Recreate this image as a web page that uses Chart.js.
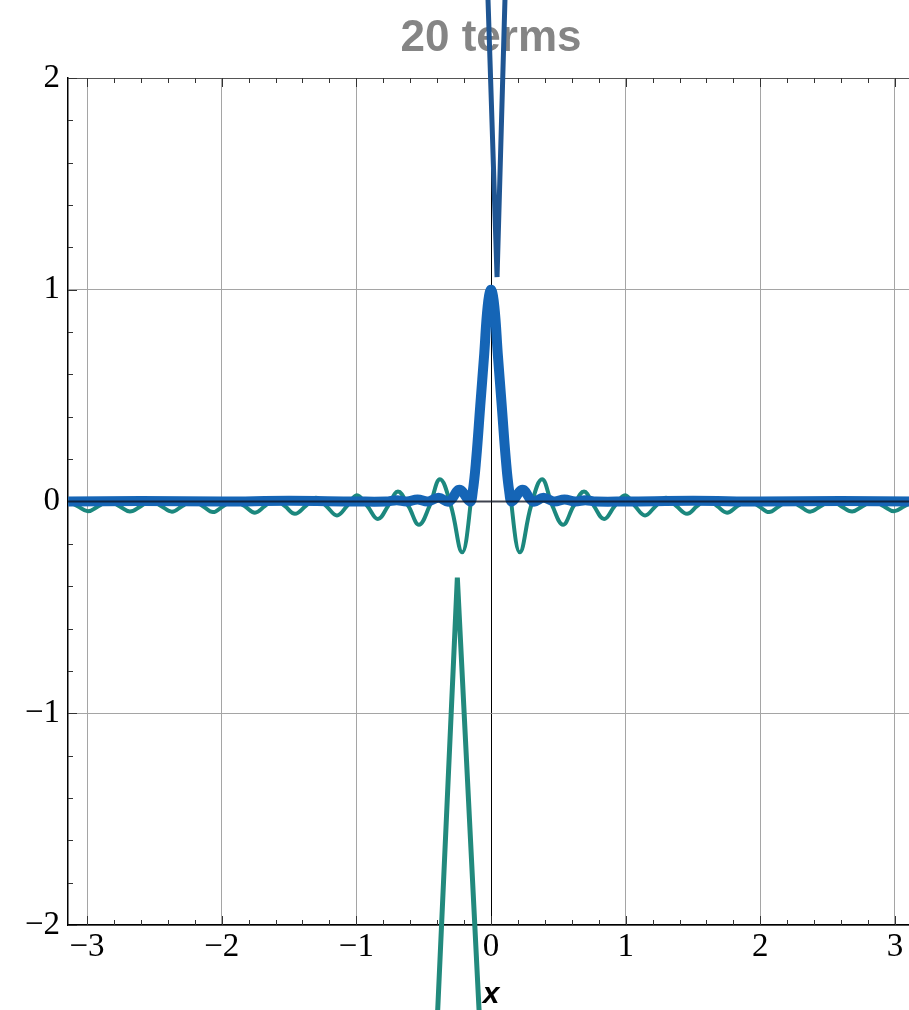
<!DOCTYPE html>
<html>
<head>
<meta charset="utf-8">
<script src="https://cdn.jsdelivr.net/npm/chart.js@4.4.0/dist/chart.umd.min.js"></script>
<style>
  html, body { margin: 0; padding: 0; background: #fff; overflow: hidden; }
  #termsChart { display: block; }
</style>
</head>
<body>
<canvas id="termsChart" width="920" height="1010"></canvas>
<script>
// tick labels
const xTicks = [-3, -2, -1, 0, 1, 2, 3];
const yTicks = [-2, -1, 0, 1, 2];

// 20 terms, teal partial sum
const tealX = [-3.14, -3.07, -2.994, -2.916, -2.838, -2.76, -2.682, -2.6, -2.526, -2.448,
  -2.37, -2.295, -2.22, -2.14, -2.065, -1.99, -1.91, -1.83, -1.753, -1.68,
  -1.605, -1.53, -1.456, -1.378, -1.3, -1.222, -1.144, -1.07, -0.996, -0.918,
  -0.84, -0.765, -0.691, -0.613, -0.535, -0.457, -0.379, -0.297, -0.215, -0.155,
  -0.1, -0.05, 0,
  0.05, 0.1, 0.155, 0.215, 0.297, 0.379, 0.457, 0.535, 0.613, 0.691,
  0.765, 0.84, 0.918, 0.996, 1.07, 1.144, 1.222, 1.3, 1.378, 1.456,
  1.53, 1.605, 1.68, 1.753, 1.83, 1.91, 1.99, 2.065, 2.14, 2.22,
  2.295, 2.37, 2.448, 2.526, 2.6, 2.682, 2.76, 2.838, 2.916, 2.994, 3.07, 3.14];
const tealY = [0.002, -0.022, -0.046, -0.022, 0.002, -0.022, -0.047, -0.022, 0.002, -0.022,
  -0.048, -0.022, 0.004, -0.022, -0.05, -0.022, 0.007, -0.022, -0.053, -0.022,
  0.011, -0.022, -0.058, -0.022, 0.018, -0.022, -0.066, -0.022, 0.03, -0.022,
  -0.083, -0.022, 0.047, -0.022, -0.11, -0.022, 0.105, -0.022, -0.24, -0.03,
  0.4, 0.8, 0.98,
  0.8, 0.4, -0.03, -0.24, -0.022, 0.105, -0.022, -0.11, -0.022, 0.047,
  -0.022, -0.083, -0.022, 0.03, -0.022, -0.066, -0.022, 0.018, -0.022, -0.058,
  -0.022, 0.011, -0.022, -0.053, -0.022, 0.007, -0.022, -0.05, -0.022, 0.004,
  -0.022, -0.048, -0.022, 0.002, -0.022, -0.047, -0.022, 0.002, -0.022, -0.046, -0.022, 0.002];

// thick blue kernel
const blueX = [-3.14, -2.6, -2.0, -1.5, -1.0, -0.78, -0.7, -0.624, -0.546, -0.468,
  -0.39, -0.312, -0.234, -0.156, -0.135, -0.11, -0.08, -0.05, -0.025, 0,
  0.025, 0.05, 0.08, 0.11, 0.135, 0.156, 0.234, 0.312, 0.39, 0.468,
  0.546, 0.624, 0.7, 0.78, 1.0, 1.5, 2.0, 2.6, 3.14];
const blueY = [0, 0.002, 0, 0.003, 0, 0, 0.006, 0, 0.01, 0,
  0.018, 0, 0.055, 0, 0.05, 0.2, 0.45, 0.7, 0.92, 1.0,
  0.92, 0.7, 0.45, 0.2, 0.05, 0, 0.055, 0, 0.018, 0,
  0.01, 0, 0.006, 0, 0, 0.003, 0, 0.002, 0];

// the two steep pieces that leave the frame
const spikeUpX = [-0.034, 0.045, 0.114];
const spikeUpY = [2.6, 1.06, 2.6];
const spikeDownX = [-0.41, -0.25, -0.073];
const spikeDownY = [-2.6, -0.36, -2.6];

function toPoints(xs, ys) {
  return xs.map((x, i) => ({ x: x, y: ys[i] }));
}

function minusSign(v) {
  return String(v).replace('-', '\u2212');
}

const serif = "'Liberation Serif', 'Times New Roman', serif";

const frameTicks = {
  id: 'frameTicks',
  beforeDatasetsDraw(chart) {
    const ctx = chart.ctx;
    const a = chart.chartArea;
    const xs = chart.scales.x;
    const ys = chart.scales.y;
    ctx.save();
    // top frame line
    ctx.strokeStyle = '#555';
    ctx.lineWidth = 1.2;
    ctx.beginPath();
    ctx.moveTo(a.left, a.top + 0.5);
    ctx.lineTo(a.right, a.top + 0.5);
    ctx.stroke();
    ctx.strokeStyle = '#333';
    ctx.lineWidth = 1;
    for (let k = -15; k <= 15; k++) {
      const v = k / 5;
      const px = Math.round(xs.getPixelForValue(v)) + 0.5;
      const len = k % 5 === 0 ? 9 : 5;
      ctx.beginPath();
      ctx.moveTo(px, a.bottom);
      ctx.lineTo(px, a.bottom - len);
      ctx.moveTo(px, a.top);
      ctx.lineTo(px, a.top + len);
      ctx.stroke();
    }
    for (let k = -10; k <= 10; k++) {
      const v = k / 5;
      const py = Math.round(ys.getPixelForValue(v)) + 0.5;
      const len = k % 5 === 0 ? 9 : 5;
      ctx.beginPath();
      ctx.moveTo(a.left, py);
      ctx.lineTo(a.left + len, py);
      ctx.stroke();
    }
    ctx.restore();
  },
  afterDatasetsDraw(chart) {
    // horizontal axis sits over the curves
    const ctx = chart.ctx;
    const a = chart.chartArea;
    const py = chart.scales.y.getPixelForValue(0);
    ctx.save();
    ctx.strokeStyle = 'rgba(15,20,35,0.8)';
    ctx.lineWidth = 2;
    ctx.beginPath();
    ctx.moveTo(a.left, py);
    ctx.lineTo(a.right, py);
    ctx.stroke();
    ctx.restore();
  }
};

const config = {
  type: 'line',
  data: {
    datasets: [
      {
        label: 'spike up',
        data: toPoints(spikeUpX, spikeUpY),
        borderColor: '#1f5592',
        borderWidth: 5,
        borderJoinStyle: 'bevel',
        pointRadius: 0,
        tension: 0,
        clip: false,
        order: 0,
      },
      {
        label: 'spike down',
        data: toPoints(spikeDownX, spikeDownY),
        borderColor: '#228a7d',
        borderWidth: 5,
        borderJoinStyle: 'bevel',
        pointRadius: 0,
        tension: 0,
        clip: false,
        order: 1,
      },
      {
        label: 'kernel',
        data: toPoints(blueX, blueY),
        borderColor: '#1565b6',
        borderWidth: 10,
        pointRadius: 0,
        tension: 0.4,
        order: 2,
      },
      {
        label: 'partial sum',
        data: toPoints(tealX, tealY),
        borderColor: '#1c887e',
        borderWidth: 4,
        pointRadius: 0,
        tension: 0.4,
        order: 3,
      },
    ],
  },
  options: {
    responsive: false,
    animation: false,
    layout: { padding: { left: 0, right: 6, top: 0, bottom: 0 } },
    plugins: {
      legend: { display: false },
      tooltip: { enabled: false },
      title: {
        display: true,
        fullSize: false,
        text: '20 terms',
        color: '#858585',
        font: { family: "'Liberation Sans', Arial, sans-serif", size: 44, weight: 'bold', lineHeight: 1.2 },
        padding: { top: 12, bottom: 13.2 },
      },
    },
    scales: {
      x: {
        type: 'linear',
        min: -Math.PI,
        max: Math.PI,
        afterBuildTicks: (s) => { s.ticks = xTicks.map((v) => ({ value: v })); },
        afterFit: (s) => { s.height = 85; },
        ticks: {
          color: '#000',
          font: { family: serif, size: 33 },
          padding: 3,
          maxRotation: 0,
          autoSkip: false,
          callback: (v) => minusSign(v),
        },
        grid: {
          drawTicks: false,
          color: (c) => (c.tick && c.tick.value === 0 ? '#000' : '#a5a5a5'),
          lineWidth: 1,
        },
        border: { display: true, color: '#000', width: 1.5 },
        title: {
          display: true,
          text: 'x',
          color: '#000',
          font: { family: "'Liberation Sans', Arial, sans-serif", size: 30, style: 'italic', weight: 'bold', lineHeight: 1.0 },
          padding: 0,
        },
      },
      y: {
        type: 'linear',
        min: -2,
        max: 2,
        afterBuildTicks: (s) => { s.ticks = yTicks.map((v) => ({ value: v })); },
        afterFit: (s) => { s.width = 68; },
        ticks: {
          color: '#000',
          font: { family: serif, size: 33 },
          padding: 8,
          callback: (v) => minusSign(v),
        },
        grid: {
          drawTicks: false,
          color: (c) => (c.tick && c.tick.value === 0 ? 'rgba(0,0,0,0)' : '#a5a5a5'),
          lineWidth: 1,
        },
        border: { display: true, color: '#000', width: 1.5 },
      },
    },
  },
  plugins: [frameTicks],
};

const ctx = document.getElementById('termsChart').getContext('2d');
const termsChart = new Chart(ctx, config);
</script>
</body>
</html>
